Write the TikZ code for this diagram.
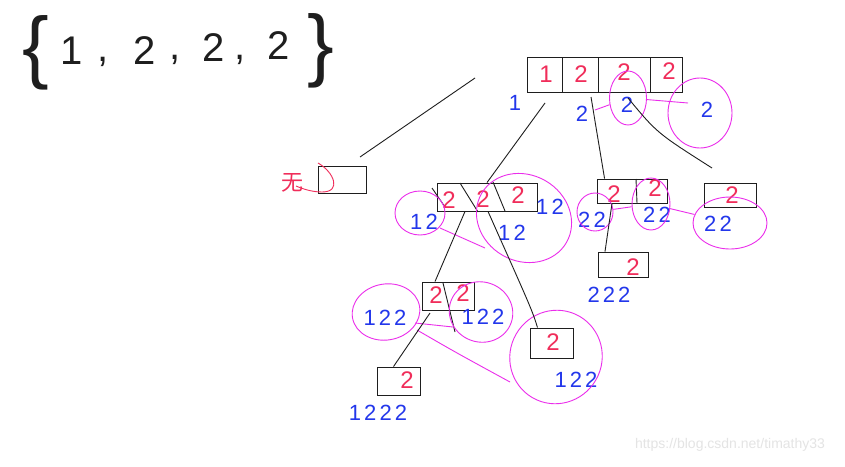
\documentclass[tikz,border=0pt]{standalone}
\usepackage{fontspec}
\setmainfont{Liberation Sans}
\newfontfamily\cjk{Noto Sans CJK SC}
\newfontfamily\wide[LetterSpace=14]{Liberation Sans}
\usetikzlibrary{shapes.geometric}
\definecolor{ink}{RGB}{30,30,30}
\definecolor{penred}{RGB}{240,45,90}
\definecolor{penblue}{RGB}{35,55,235}
\definecolor{penmag}{RGB}{235,45,235}
\definecolor{wm}{RGB}{228,228,228}
\begin{document}
\begin{tikzpicture}[x=1pt,y=-1pt,
  inkline/.style={draw=ink,line width=0.9pt},
  cellbox/.style={draw=ink,line width=0.9pt,inner sep=0pt,rectangle},
  rd/.style={text=penred,font=\fontsize{24}{24}\selectfont,inner sep=0pt},
  bl/.style={text=penblue,font=\wide\fontsize{22}{22}\selectfont,inner sep=0pt},
  loop/.style={draw=penmag,line width=0.9pt,ellipse,inner sep=0pt},
  mline/.style={draw=penmag,line width=0.9pt},
  big/.style={text=ink,font=\fontsize{40}{40}\selectfont,inner sep=0pt},
  brace/.style={text=ink,font=\fontsize{80}{80}\selectfont,inner sep=0pt}]
\useasboundingbox[fill=white] (0,0) rectangle (845,466);

% ---- the set {1,2,2,2}
\node[brace] (lb) at (36,53) {\{};
\node[big] (n1) at (72,51) {1};
\node[big] (c1) at (103,62) {,};
\node[big] (n2) at (145,51) {2};
\node[big] (c2) at (175,60) {,};
\node[big] (n3) at (214,48) {2};
\node[big] (c3) at (240,60) {,};
\node[big] (n4) at (279,46) {2};
\node[brace] (rb) at (321,51) {\}};

% ---- root box
\node[cellbox,minimum width=155,minimum height=35] (root) at (604.5,74.5) {};
\draw[inkline] (562,57) -- (562,92);
\draw[inkline] (598,57) -- (598,92);
\draw[inkline] (650,57) -- (650,92);
\node[rd] (r1t) at (546,74) {1};
\node[rd] (r2t) at (581,74) {2};
\node[rd] (r3t) at (624,72) {2};
\node[rd] (r4t) at (669,71) {2};
\node[bl] (r1b) at (515,103) {1};
\node[bl] (r2b) at (582,114) {2};
\node[bl] (r3b) at (627,105) {2};
\node[bl] (r4b) at (707,110) {2};
\node[loop,minimum width=37,minimum height=54] (rl1) at (628,98) {};
\node[loop,minimum width=64,minimum height=70] (rl2) at (700,113) {};
\draw[mline] (595,110) -- (rl1);
\draw[mline] (rl1) -- (688,103);

% ---- connectors from the root
\coordinate (s0) at (475,78);
\coordinate (s0e) at (360,157);
\coordinate (e1) at (545,103);
\coordinate (e2) at (591,97);
\coordinate (e3) at (628,98);
\coordinate (e3e) at (712,168);
\draw[inkline] (s0) -- (s0e);

% ---- "none" box
\node[cellbox,minimum width=48,minimum height=27] (none) at (342,179.5) {};
\node[text=penred,font=\cjk\fontsize{22}{22}\selectfont,inner sep=0pt] (wu) at (292,183) {无};
\draw[draw=penred,line width=0.9pt] (318,163) .. controls (334,172) and (342,192) .. (322,192) .. controls (312,192) and (303,189) .. (296,186);

% ---- level 2, left box
\node[cellbox,minimum width=100,minimum height=28] (b2) at (487,197) {};
\draw[inkline] (432,188) -- (445,207);
\draw[inkline] (460,183) -- (478,212);
\draw[inkline] (493,182) -- (505,211);
\node[rd] (b2a) at (449,200) {2};
\node[rd] (b2b) at (483,199) {2};
\node[rd] (b2c) at (518,195) {2};
\node[bl] (b2l) at (424,222) {12};
\node[bl] (b2r) at (550,207) {12};
\node[bl] (b2m) at (512,233) {12};
\node[loop,minimum width=50,minimum height=44] (b2ll) at (420,213) {};
\node[loop,minimum width=98,minimum height=86,rotate=-30] (b2rl) at (524,218) {};
\draw[mline] (440,228) -- (485,248);
\draw[inkline] (e1) -- (b2.north);

% ---- level 2, middle box
\node[cellbox,minimum width=70,minimum height=24] (b3) at (632,191) {};
\draw[inkline] (636,179) -- (637,203);
\node[rd] (b3a) at (614,194) {2};
\node[rd] (b3b) at (655,188) {2};
\node[bl] (b3l) at (592,220) {22};
\node[bl] (b3r) at (657,215) {22};
\node[loop,minimum width=36,minimum height=38] (b3ll) at (595,212) {};
\node[loop,minimum width=38,minimum height=52] (b3rl) at (651,204) {};
\draw[mline] (b3ll) -- (b3rl);
\draw[inkline] (e2) -- ([xshift=8]b3.north west);

% ---- level 2, right box
\node[cellbox,minimum width=52,minimum height=24] (b4) at (730,195) {};
\node[rd] (b4a) at (732,195) {2};
\node[bl] (b4l) at (718,224) {22};
\node[loop,minimum width=74,minimum height=52] (b4ll) at (730,223) {};
\draw[mline] (b3rl) -- (b4ll);
\draw[inkline] (e3) .. controls (657,133) .. (e3e);

% ---- level 3 under the middle box
\node[cellbox,minimum width=50,minimum height=25] (b5) at (623,264.5) {};
\node[rd] (b5a) at (633,267) {2};
\node[bl] (b5l) at (609,295) {222};
\draw[inkline] ([xshift=-20]b3.south) -- ([xshift=-18]b5.north);

% ---- level 3 left box
\node[cellbox,minimum width=52,minimum height=28] (b6) at (448,296) {};
\draw[inkline] (443,283) -- (455,332);
\node[rd] (b6a) at (436,295) {2};
\node[rd] (b6b) at (463,293) {2};
\node[bl] (b6l) at (385,318) {122};
\node[bl] (b6r) at (483,317) {122};
\node[loop,minimum width=68,minimum height=56,rotate=10] (b6ll) at (386,312) {};
\node[loop,minimum width=64,minimum height=60,rotate=-20] (b6rl) at (481,312) {};
\draw[mline] (415,323) -- (453,327);
\draw[inkline] ([xshift=-22]b2.south) -- ([xshift=-13]b6.north);

% ---- level 3 right box
\node[cellbox,minimum width=43,minimum height=30] (b7) at (551.5,343) {};
\node[rd] (b7a) at (553,342) {2};
\node[bl] (b7l) at (576,380) {122};
\node[loop,minimum width=92,minimum height=94,rotate=-30] (b7ll) at (556,357) {};
\draw[mline] (417,330) .. controls (455,352) .. (510,382);
\draw[inkline] ([xshift=1]b2.south) .. controls (532,310) .. ([xshift=-14]b7.north);

% ---- level 4 box
\node[cellbox,minimum width=43,minimum height=28] (b8) at (398.5,381) {};
\node[rd] (b8a) at (407,380) {2};
\node[bl] (b8l) at (378,413) {1222};
\draw[inkline] (430,313) -- ([xshift=-5]b8.north);

% ---- watermark
\node[text=wm,font=\fontsize{14}{14}\selectfont,inner sep=0pt] (wmk) at (730,445) {https://blog.csdn.net/timathy33};
\end{tikzpicture}
\end{document}
